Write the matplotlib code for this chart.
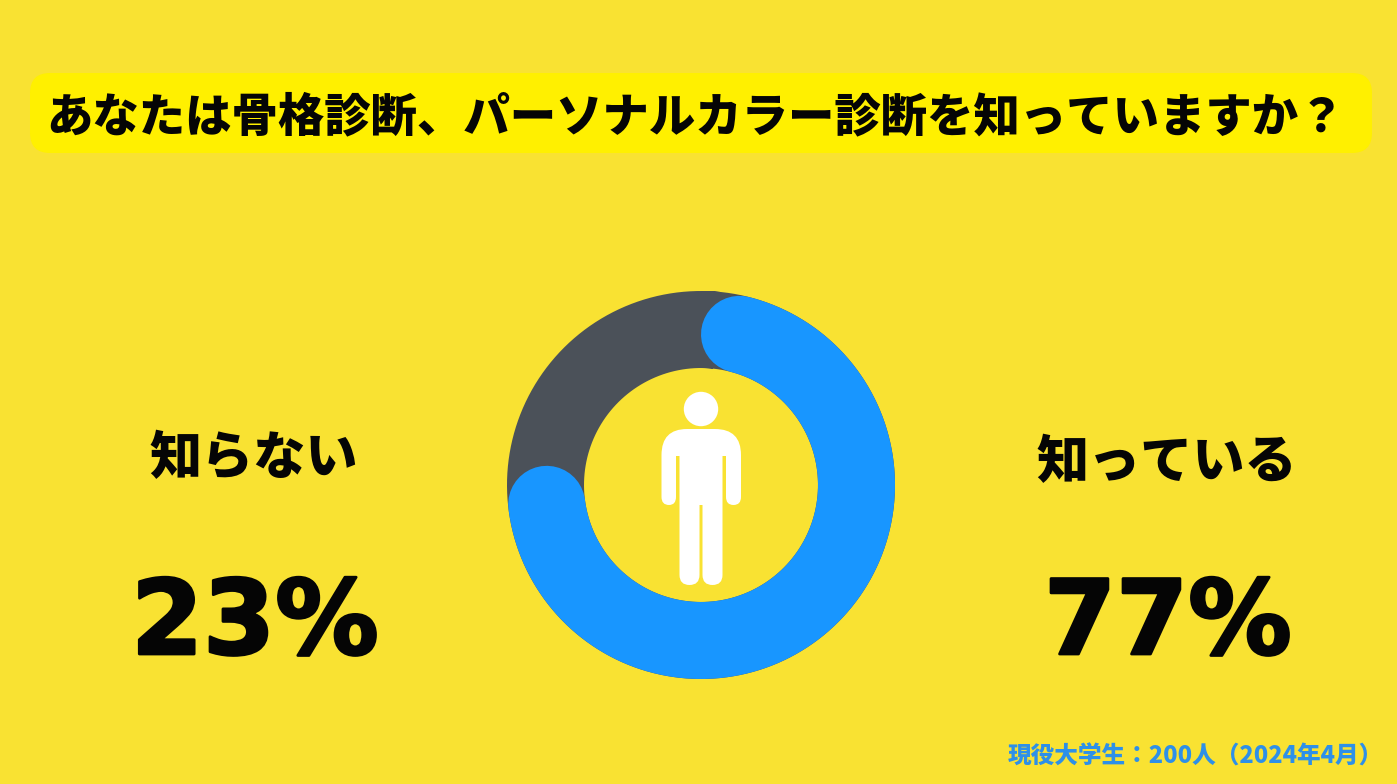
import numpy as np
import matplotlib
matplotlib.use('Agg')
import matplotlib.pyplot as plt
import matplotlib.patheffects as pe
from matplotlib.patches import Circle, FancyBboxPatch, PathPatch
from matplotlib.path import Path

# data
title = 'あなたは骨格診断、パーソナルカラー診断を知っていますか？'
labels = ['知らない', '知っている']
values = [23, 77]
footer = '現役大学生：200人（2024年4月）'

bg = '#F9E232'
blue = '#1896FF'
gray = '#4B5159'
ink = '#050505'
W, H = 1397, 784
cjk = ['Noto Sans CJK JP', 'DejaVu Sans']

fig = plt.figure(figsize=(W / 100, H / 100), dpi=100, facecolor=bg)
ax = fig.add_axes([0, 0, 1, 1])
ax.set_xlim(0, W)
ax.set_ylim(H, 0)
ax.axis('off')

# title pill
ax.add_patch(FancyBboxPatch((30, 73), 1342, 80, boxstyle='round,pad=0,rounding_size=20',
                            fc='#FFF000', ec='none'))
ax.text(696, 118, title, family=cjk, weight=900, fontsize=33.4, color=ink,
        ha='center', va='center')

# left / right labels
ax.text(254, 459, labels[0], family=cjk, weight=900, fontsize=37.5, color=ink,
        ha='center', va='center')
ax.text(1167, 463, labels[1], family=cjk, weight=900, fontsize=37.5, color=ink,
        ha='center', va='center')
# thin stroke makes the numbers as heavy as in the picture
heavy = [pe.withStroke(linewidth=2, foreground=ink)]
ax.text(255, 654, f'{values[0]}%', family='DejaVu Sans', weight='bold', fontsize=74.5,
        color=ink, ha='center', va='baseline', path_effects=heavy)
ax.text(1168, 654, f'{values[1]}%', family='DejaVu Sans', weight='bold', fontsize=74.5,
        color=ink, ha='center', va='baseline', path_effects=heavy)
ax.text(1383, 756, footer, family=cjk, weight=900, fontsize=17.0, color='#2E90E8',
        ha='right', va='center')

# donut
cx, cy, r_out, r_in = 701, 485, 194, 117
pax = fig.add_axes([(cx - r_out) / W, 1 - (cy + r_out) / H, 2 * r_out / W, 2 * r_out / H],
                   projection='polar')
pax.set_theta_zero_location('N')
pax.set_theta_direction(-1)
pax.set_ylim(0, r_out)
pax.axis('off')
pax.patch.set_alpha(0)
r_mid = (r_out + r_in) / 2
lw = (r_out - r_in) * 72 / 100
# a little past a full turn so no seam shows at the top
ring = np.linspace(0, 2 * np.pi + 0.1, 370)
pax.plot(ring, np.full(ring.size, r_mid), color=gray, lw=lw,
         solid_capstyle='butt', clip_on=False)
# round caps sit inside the share of the ring
cap = np.arcsin((r_out - r_in) / 2 / r_mid)
end = 2 * np.pi * values[1] / sum(values)
th = np.linspace(cap, end - cap, 300)
pax.plot(th, np.full(th.size, r_mid), color=blue, lw=lw, solid_capstyle='round', clip_on=False)

# person icon
ax2 = fig.add_axes([0, 0, 1, 1])
ax2.set_xlim(0, W)
ax2.set_ylim(H, 0)
ax2.axis('off')
ax2.patch.set_alpha(0)
ax2.add_patch(Circle((701, 409), 17.2, fc='white', ec='none'))
L, C, M = Path.LINETO, Path.CURVE3, Path.MOVETO
pts = [
    ((687, 429), M), ((661.5, 429), C), ((661.5, 455), C),
    ((661.5, 497), L), ((661.5, 505), C), ((669, 505), C), ((676, 505), C), ((676, 497), C),
    ((676, 456), L), ((679.5, 456), L),
    ((679.5, 575), L), ((679.5, 585), C), ((689.5, 585), C), ((699.5, 585), C), ((699.5, 575), C),
    ((699.5, 505), L), ((702.5, 505), L),
    ((702.5, 575), L), ((702.5, 585), C), ((712.5, 585), C), ((722.5, 585), C), ((722.5, 575), C),
    ((722.5, 456), L), ((726, 456), L),
    ((726, 497), L), ((726, 505), C), ((733.5, 505), C), ((741, 505), C), ((741, 497), C),
    ((741, 455), L), ((741, 429), C), ((715, 429), C),
    ((687, 429), L),
]
ax2.add_patch(PathPatch(Path([p[0] for p in pts], [p[1] for p in pts]), fc='white', ec='none'))

fig.savefig('out.png', dpi=100, facecolor=bg)
